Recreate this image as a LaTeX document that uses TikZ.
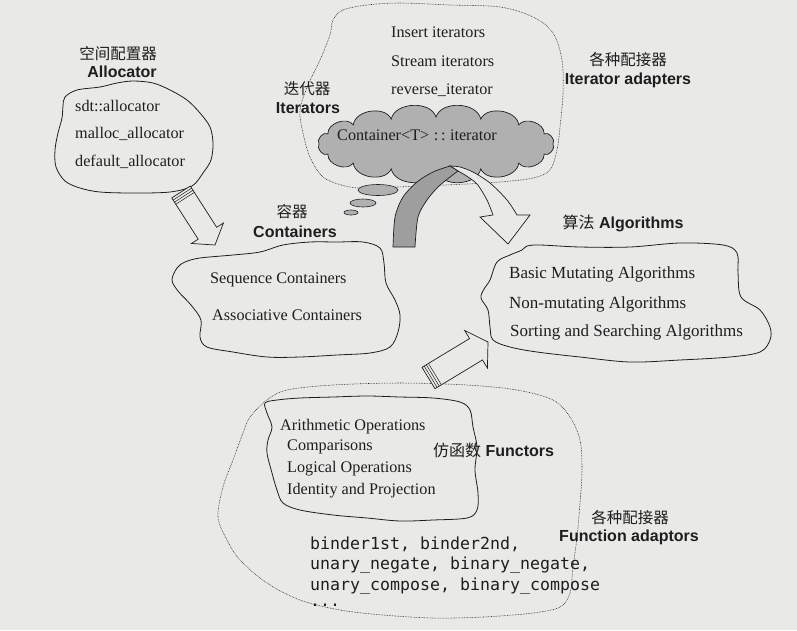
\documentclass[tikz,border=0pt]{standalone}
\usepackage{fontspec}
\setmainfont{Liberation Serif}
\setsansfont{Liberation Sans}
\setmonofont{DejaVu Sans Mono}
\newfontfamily\cjk{Noto Sans CJK SC}
\usetikzlibrary{calc}

\definecolor{pagebg}{RGB}{233,233,231}
\definecolor{ink}{RGB}{30,30,30}
\definecolor{cloudgray}{RGB}{176,176,176}
\definecolor{bandgray}{RGB}{158,158,158}

\tikzset{
	item/.style={anchor=west,inner sep=0pt,text=ink,font={\fontsize{16.2}{19}\selectfont}},
	big item/.style={item,font={\fontsize{17}{20}\selectfont}},
	codeline/.style={anchor=west,inner sep=0pt,text=ink,font={\ttfamily\fontsize{16.6}{20}\selectfont}},
	head/.style={inner sep=0pt,text=ink,font={\sffamily\bfseries\fontsize{16}{19}\selectfont}},
	head cn/.style={inner sep=0pt,text=ink,font={\cjk\fontsize{15.5}{19}\selectfont}},
	blob/.style={draw=ink,line width=0.8pt,fill=pagebg},
	dot blob/.style={draw=ink,line width=0.55pt,dash pattern=on 0.7pt off 0.9pt},
	bubble/.style={draw=ink,line width=0.6pt,fill=cloudgray},
	gray cloud/.style={draw=ink,line width=0.7pt,fill=cloudgray},
	fat arrow/.style={draw=ink,line width=0.7pt,fill=pagebg,line join=miter},
	ring line/.style={draw=ink,line width=0.5pt},
}

\newcommand{\blockarrow}[5]{%
	\coordinate (ba base) at ($(#2)!#5!(#1)$);
	\draw[fat arrow] ($(#1)!#3!90:(#2)$) -- ($(ba base)!#3!90:(#2)$) -- ($(ba base)!#4!90:(#2)$) -- (#2)
		-- ($(ba base)!#4!-90:(#2)$) -- ($(ba base)!#3!-90:(#2)$) -- ($(#1)!#3!-90:(#2)$) -- cycle;
	\foreach \s in {2.5pt,5pt,7.5pt} {
		\coordinate (ba ring) at ($(#1)!\s!(#2)$);
		\draw[ring line] ($(ba ring)!#3!90:(#2)$) -- ($(ba ring)!#3!-90:(#2)$);
	}%
}

\begin{document}
\begin{tikzpicture}[x=1pt,y=-1pt]
	\fill[pagebg] (0,0) rectangle (797,630);
	\useasboundingbox (0,0) rectangle (797,630);

	% iterator adapters
	\draw[dot blob] plot[smooth cycle,tension=0.55] coordinates {(333,20) (343,10) (367,5) (400,3) (450,5) (500,7)
		(533,17) (553,33) (562,60) (563,93) (560,127) (557,150) (550,170) (533,178) (500,182) (467,184)
		(420,186) (367,188) (345,186) (323,177) (310,157) (303,133) (300,110) (308,85) (320,60) (330,35)};
	\draw[gray cloud,shift={(436,144)}] (0:117 and 27)
		\foreach \a in {22.5,45,...,360} { to[bend left=75] (\a:117 and 27) } -- cycle;
	\draw[bubble] (378,190) ellipse [x radius=20pt,y radius=5.5pt];
	\draw[bubble] (363,203) ellipse [x radius=13pt,y radius=4pt];
	\draw[bubble] (351,212.5) ellipse [x radius=7pt,y radius=2.5pt];

	% allocator, containers, algorithms, functors
	\draw[blob] plot[smooth cycle,tension=0.55] coordinates {(65,97) (77,90) (100,87) (117,83) (133,81) (153,83)
		(170,90) (187,100) (200,113) (210,127) (213,143) (211,160) (203,173) (192,186) (170,192) (133,193)
		(100,192) (80,188) (65,181) (56,167) (55,150) (58,133) (62,118) (63,106)};
	\draw[blob] plot[smooth cycle,tension=0.55] coordinates {(172,280) (177,268) (185,262) (200,258) (233,255)
		(260,252) (283,245) (310,242) (337,242) (363,242) (380,248) (384,263) (386,283) (395,300) (400,315)
		(398,332) (390,347) (370,353) (337,355) (300,357) (267,357) (233,352) (207,347) (200,337) (201,320)
		(191,305) (178,291)};
	\draw[blob] plot[smooth cycle,tension=0.55] coordinates {(490,280) (497,262) (510,255) (522,250) (527,246)
		(540,245) (580,247) (630,247) (680,243) (723,245) (737,253) (738,273) (741,297) (760,310) (770,327)
		(770,340) (760,352) (730,357) (680,360) (630,362) (580,357) (537,352) (510,347) (493,340) (490,327)
		(488,310) (481,298) (484,289)};
	\draw[dot blob] plot[smooth cycle,tension=0.55] coordinates {(250,417) (267,400) (287,390) (333,385) (400,383)
		(467,385) (517,390) (553,400) (570,417) (580,440) (582,470) (580,503) (577,537) (573,567) (570,593)
		(560,607) (533,613) (483,617) (433,618) (383,615) (340,610) (300,600) (267,583) (240,560) (227,540)
		(218,517) (223,487) (233,460) (243,433)};
	\draw[blob] plot[smooth cycle,tension=0.55] coordinates {(267,413) (265,403) (277,400) (300,398) (333,397)
		(367,396) (400,397) (433,398) (460,402) (470,410) (473,427) (477,447) (475,470) (478,493) (477,510)
		(467,518) (433,520) (400,521) (367,518) (333,515) (300,510) (283,503) (277,490) (272,473) (267,453)
		(268,440) (272,427)};

	% bent arrow from the iterators
	\draw[fat arrow] plot[smooth] coordinates {(450,166) (460,167) (473,172) (490,183) (507,200) (517,215)}
		-- (530,215) -- (508,244) -- (480,217)
		-- plot[smooth] coordinates {(493,215) (487,200) (477,184) (465,175) (458,171)} -- cycle;
	\draw[fat arrow,fill=bandgray] plot[smooth] coordinates {(393,247) (395,217) (403,197) (417,182) (433,172) (450,166)}
		-- plot[smooth] coordinates {(458,171) (450,177) (438,187) (427,200) (418,217) (415,247)} -- cycle;

	\coordinate (alloc out) at (181,192);
	\coordinate (cont in) at (215,245);
	\coordinate (func out) at (428.5,378);
	\coordinate (algo in) at (488,342);
	\blockarrow{alloc out}{cont in}{11pt}{19pt}{14pt}
	\blockarrow{func out}{algo in}{12.5pt}{22pt}{14pt}

	\node[head cn] (alloc cn) at (118,54) {空间配置器};
	\node[head] (alloc en) at (122,72) {Allocator};
	\node[item] (alloc 1) at (75,106) {sdt::allocator};
	\node[item] (alloc 2) at (75,134) {malloc\_allocator};
	\node[item] (alloc 3) at (75,162) {default\_allocator};

	\node[head cn] (iter cn) at (307,89) {迭代器};
	\node[head] (iter en) at (308,108) {Iterators};
	\node[item] (iter 1) at (391,32) {Insert iterators};
	\node[item] (iter 2) at (391,61) {Stream iterators};
	\node[item] (iter 3) at (391,90) {reverse\_iterator};
	\node[item,anchor=center] (iter base) at (417,135) {Container<T>\;:\,:\;iterator};
	\node[head cn] (adapt cn) at (628,60) {各种配接器};
	\node[head] (adapt en) at (628,80) {Iterator adapters};

	\node[head cn] (cont cn) at (292,212) {容器};
	\node[head] (cont en) at (295,232) {Containers};
	\node[item] (cont 1) at (210,280) {Sequence Containers};
	\node[item] (cont 2) at (212,315) {Associative Containers};

	\node[head] (algo en) at (623,223) {{\mdseries\cjk 算法} Algorithms};
	\node[big item] (algo 1) at (509,274) {Basic Mutating Algorithms};
	\node[big item] (algo 2) at (509,304) {Non-mutating Algorithms};
	\node[big item] (algo 3) at (510,332) {Sorting and Searching Algorithms};

	\node[item] (func 1) at (280,427) {Arithmetic Operations};
	\node[item] (func 2) at (287,447) {Comparisons};
	\node[item] (func 3) at (287,469) {Logical Operations};
	\node[item] (func 4) at (287,491) {Identity and Projection};
	\node[head,anchor=west] (func en) at (433,450) {{\mdseries\cjk 仿函数} Functors};
	\node[codeline] (fadapt 1) at (310,544) {binder1st, binder2nd,};
	\node[codeline] (fadapt 2) at (310,565) {unary\_negate, binary\_negate,};
	\node[codeline] (fadapt 3) at (310,586) {unary\_compose, binary\_compose};
	\node[codeline,anchor=base west] (fadapt 4) at (310,606) {...};
	\node[head cn] (fadapt cn) at (630,518) {各种配接器};
	\node[head] (fadapt en) at (629,537) {Function adaptors};
\end{tikzpicture}
\end{document}
